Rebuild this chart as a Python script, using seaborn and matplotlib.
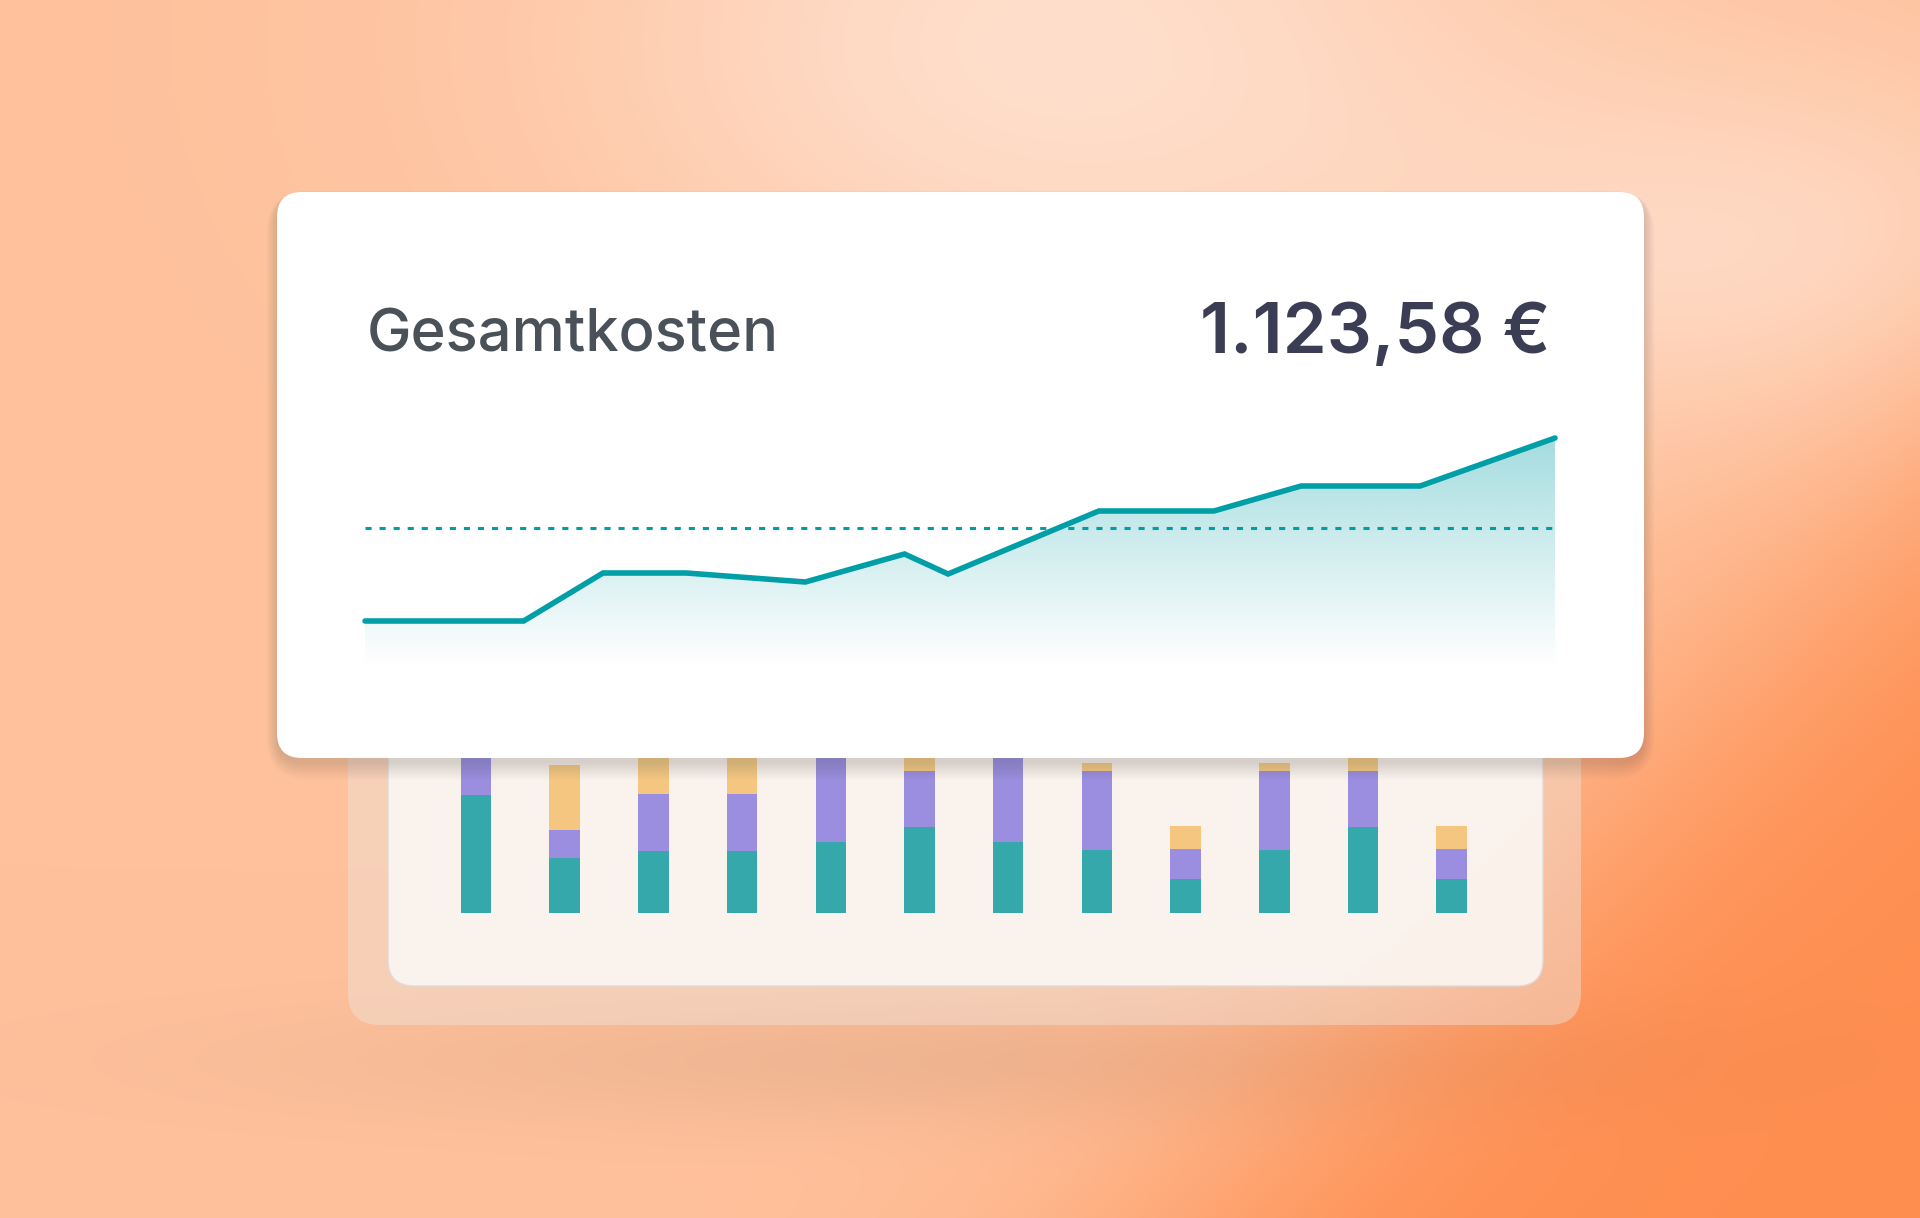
import numpy as np
import matplotlib
matplotlib.use("Agg")
import matplotlib.pyplot as plt
from matplotlib.patches import FancyBboxPatch
import seaborn as sns
import pandas as pd

# ---------------- data ----------------
titel = "Gesamtkosten"
betrag = "1.123,58 €"

# line chart (day of month -> cumulative cost)
tage = [1, 5, 7, 9.1, 12.1, 14.6, 15.7, 19.5, 22.4, 24.6, 27.6, 31]
kosten = [46, 46, 94, 94, 85, 113, 93, 156, 156, 181, 181, 229]
referenz = 139

# stacked bars (partly hidden behind the card)
monate = ["Jan", "Feb", "Mär", "Apr", "Mai", "Jun",
          "Jul", "Aug", "Sep", "Okt", "Nov", "Dez"]
teil_teal = [118, 55, 62, 62, 71, 86, 71, 63, 34, 63, 86, 34]
teil_lila = [60, 28, 57, 57, 100, 56, 100, 79, 30, 79, 56, 30]
teil_gelb = [0, 65, 45, 45, 0, 25, 0, 8, 23, 8, 25, 23]

# ---------------- style ----------------
sns.set_theme(style="white")
plt.rcParams["font.family"] = ["Inter", "DejaVu Sans"]

W, H = 1920, 1218
DPI = 100
fig = plt.figure(figsize=(W / DPI, H / DPI), dpi=DPI)

TEAL_LINE = "#009EA6"
C_TEAL = "#34A8AA"
C_LILA = "#9B8EE0"
C_GELB = "#F4C680"

# ---------------- background ----------------
ys, xs = np.mgrid[0:H:4, 0:W:4].astype(float)
base = np.array([255, 193, 156]) / 255
light = np.array([254, 222, 203]) / 255
orange = np.array([255, 142, 80]) / 255
L1 = np.exp(-(((xs - 1050) / 480) ** 2 + ((ys - 40) / 320) ** 2))
L2 = np.exp(-(((xs - 1800) / 420) ** 2 + ((ys - 260) / 200) ** 2))
Lw = np.clip(L1 + 0.8 * L2, 0, 1)[..., None]
O = 1 / (1 + np.exp(-(0.69 * xs + 0.72 * ys - 1690) / 85))
O = O[..., None]
bg = base * (1 - Lw) + light * Lw
bg = bg * (1 - O) + orange * O
shade = 1 - 0.06 * np.exp(-(((xs - 950) / 650) ** 2 + ((ys - 1060) / 65) ** 2))
bg = bg * shade[..., None]

ax_bg = fig.add_axes([0, 0, 1, 1], zorder=0)
ax_bg.imshow(bg, extent=[0, W, H, 0], interpolation="bilinear", aspect="auto")
ax_bg.set_xlim(0, W)
ax_bg.set_ylim(H, 0)
ax_bg.axis("off")

def rbox(ax, x0, y0, x1, y1, r, **kw):
    p = FancyBboxPatch((x0, y0), x1 - x0, y1 - y0,
                       boxstyle=f"round,pad=0,rounding_size={r}", **kw)
    ax.add_patch(p)
    return p

# lower panel
rbox(ax_bg, 348, 700, 1581, 1025, 32, facecolor=(0.94, 0.89, 0.86), alpha=0.45, lw=0)
rbox(ax_bg, 388, 700, 1543, 986, 26, facecolor="#FBF4EF", alpha=0.96,
     edgecolor=(0.88, 0.85, 0.85), lw=1)

# ---------------- stacked bars ----------------
df = pd.DataFrame({"monat": monate, "teal": teil_teal,
                   "lila": teil_lila, "gelb": teil_gelb})
df["s_lila"] = df["teal"] + df["lila"]
df["s_gelb"] = df["s_lila"] + df["gelb"]

step = 88.7
ax_bar = fig.add_axes([(476 - step / 2) / W, 1 - 913 / H, 12 * step / W, (913 - 700) / H],
                      zorder=1)
ax_bar.patch.set_alpha(0)
bw = 30.5 / step
sns.barplot(data=df, x="monat", y="s_gelb", color=C_GELB, saturation=1,
            width=bw, ax=ax_bar, linewidth=0)
sns.barplot(data=df, x="monat", y="s_lila", color=C_LILA, saturation=1,
            width=bw, ax=ax_bar, linewidth=0)
sns.barplot(data=df, x="monat", y="teal", color=C_TEAL, saturation=1,
            width=bw, ax=ax_bar, linewidth=0)
ax_bar.set_xlim(-0.5, 11.5)
ax_bar.set_ylim(0, 213)
ax_bar.axis("off")

# ---------------- card ----------------
ax_card = fig.add_axes([0, 0, 1, 1], zorder=2)
ax_card.patch.set_alpha(0)
ax_card.set_xlim(0, W)
ax_card.set_ylim(H, 0)
ax_card.axis("off")
for i in range(12):
    g = 1 + i * 1.5
    rbox(ax_card, 277 - g * 0.6, 192 - g * 0.3 + 4, 1644 + g * 0.6, 758 + g + 4, 25 + g,
         facecolor=(0.3, 0.28, 0.3), alpha=0.014, lw=0)
rbox(ax_card, 277, 192, 1644, 758, 25, facecolor="white", lw=0)

# ---------------- line chart ----------------
ax_line = fig.add_axes([365 / W, 1 - 667 / H, 1190 / W, (667 - 420) / H], zorder=3)
ax_line.patch.set_alpha(0)
ax_line.set_xlim(tage[0], tage[-1])
ax_line.set_ylim(0, 247)
ax_line.axis("off")

poly = ax_line.fill_between(tage, kosten, 0, color="none", lw=0)
grad = np.linspace(0, 1, 256)[:, None]
rgba = np.zeros((256, 1, 4))
rgba[..., :3] = np.array([0, 158, 166]) / 255
rgba[..., 3] = 0.36 * grad ** 1.0
im = ax_line.imshow(rgba, extent=[tage[0], tage[-1], 0, max(kosten)],
                    origin="lower", aspect="auto", interpolation="bilinear")
im.set_clip_path(poly.get_paths()[0], transform=ax_line.transData)

ax_line.axhline(referenz, color=TEAL_LINE, lw=2.2, dashes=(2.0, 2.6),
                dash_capstyle="butt")
sns.lineplot(x=tage, y=kosten, color=TEAL_LINE, lw=4.0, ax=ax_line,
             solid_joinstyle="miter", solid_capstyle="round")
for l in ax_line.lines:
    l.set_clip_on(False)

# ---------------- texts ----------------
fig.text(367 / W, 1 - 352 / H, titel, fontsize=43, color="#4A5159",
         fontweight="medium", va="baseline", ha="left", zorder=10)
fig.text(1550 / W, 1 - 353 / H, betrag, fontsize=51, color="#3B3D55",
         fontweight="semibold", va="baseline", ha="right", zorder=10)

fig.savefig("out.png", dpi=DPI)
